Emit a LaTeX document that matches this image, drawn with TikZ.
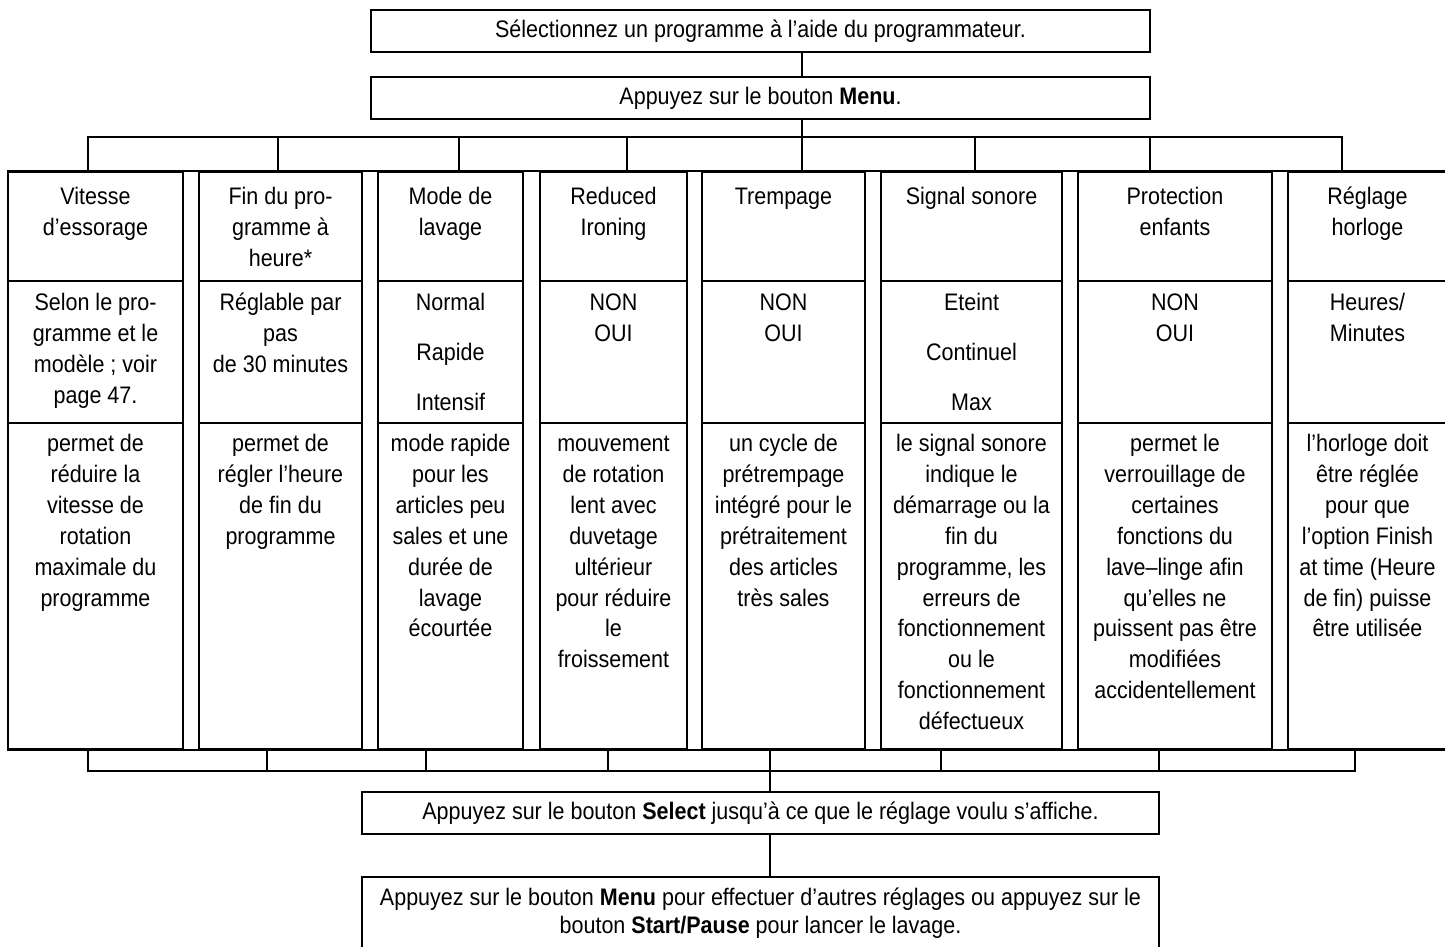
\documentclass[tikz,border=0pt]{standalone}
\usepackage{fontspec}
\setmainfont{Liberation Sans}[FakeStretch=0.9]
\usetikzlibrary{positioning,fit}

\begin{document}
\begin{tikzpicture}[x=0.02cm, y=-0.02cm, line width=1.1pt,
  font=\fontsize{13.6}{17.6}\selectfont,
  box/.style={draw, inner sep=0pt},
  cell/.style={draw, inner sep=0pt},
  txt/.style={align=center, inner sep=0pt}]
\useasboundingbox (0,0) rectangle (1445,947);

% steps at the top and at the bottom
\node[box, fit={(371,10) (1150,52)}] (sel) {};
\node[txt] (seltxt) at (sel.center) {Sélectionnez un programme à l’aide du programmateur.};
\node[box, fit={(371,77) (1150,119)}] (menu) {};
\node[txt] (menutxt) at (menu.center) {Appuyez sur le bouton \textbf{Menu}.};
\node[box, fit={(362,792) (1159,834)}] (select) {};
\node[txt] (selecttxt) at (select.center) {Appuyez sur le bouton \textbf{Select} jusqu’à ce que le réglage voulu s’affiche.};
\node[box, fit={(362,877) (1159,950)}] (start) {};
\node[txt, font=\fontsize{13.6}{15.9}\selectfont] (starttxt) at (start.center)
  {Appuyez sur le bouton \textbf{Menu} pour effectuer d’autres réglages ou appuyez sur le\\
   bouton \textbf{Start/Pause} pour lancer le lavage.};

% option columns
\foreach \n/\l/\r in {1/8/183, 2/199/362, 3/378/523, 4/540/687,
                      5/702/865, 6/881/1062, 7/1078/1272, 8/1288/1447}{
  \node[cell, fit={(\l,172) (\r,281)}] (h\n) {};
  \node[cell, fit={(\l,281) (\r,423)}] (o\n) {};
  \node[cell, fit={(\l,423) (\r,749)}] (d\n) {};
}
\draw (h1.north west) -- (h8.north east);
\draw (d1.south west) -- (d8.south east);

% headers
\node[txt, below=0.215cm of h1.north] (th1) {\strut Vitesse\\d’essorage};
\node[txt, below=0.215cm of h2.north] (th2) {\strut Fin du pro-\\gramme à\\heure*};
\node[txt, below=0.215cm of h3.north] (th3) {\strut Mode de\\lavage};
\node[txt, below=0.215cm of h4.north] (th4) {\strut Reduced\\Ironing};
\node[txt, below=0.215cm of h5.north] (th5) {\strut Trempage};
\node[txt, below=0.215cm of h6.north] (th6) {\strut Signal sonore};
\node[txt, below=0.215cm of h7.north] (th7) {\strut Protection\\enfants};
\node[txt, below=0.215cm of h8.north] (th8) {\strut Réglage\\horloge};

% settings
\node[txt, below=0.165cm of o1.north] (to1) {\strut Selon le pro-\\gramme et le\\modèle ; voir\\page 47.};
\node[txt, below=0.165cm of o2.north] (to2) {\strut Réglable par\\pas\\de 30 minutes};
\node[txt, below=0.165cm of o3.north] (to3) {\strut Normal\\[10.8pt]Rapide\\[10.8pt]Intensif};
\node[txt, below=0.165cm of o4.north] (to4) {\strut NON\\OUI};
\node[txt, below=0.165cm of o5.north] (to5) {\strut NON\\OUI};
\node[txt, below=0.165cm of o6.north] (to6) {\strut Eteint\\[10.8pt]Continuel\\[10.8pt]Max};
\node[txt, below=0.165cm of o7.north] (to7) {\strut NON\\OUI};
\node[txt, below=0.165cm of o8.north] (to8) {\strut Heures/\\Minutes};

% descriptions
\node[txt, below=0.135cm of d1.north] (td1) {\strut permet de\\réduire la\\vitesse de\\rotation\\maximale du\\programme};
\node[txt, below=0.135cm of d2.north] (td2) {\strut permet de\\régler l’heure\\de fin du\\programme};
\node[txt, below=0.135cm of d3.north] (td3) {\strut mode rapide\\pour les\\articles peu\\sales et une\\durée de\\lavage\\écourtée};
\node[txt, below=0.135cm of d4.north] (td4) {\strut mouvement\\de rotation\\lent avec\\duvetage\\ultérieur\\pour réduire\\le\\froissement};
\node[txt, below=0.135cm of d5.north] (td5) {\strut un cycle de\\prétrempage\\intégré pour le\\prétraitement\\des articles\\très sales};
\node[txt, below=0.135cm of d6.north] (td6) {\strut le signal sonore\\indique le\\démarrage ou la\\fin du\\programme, les\\erreurs de\\fonctionnement\\ou le\\fonctionnement\\défectueux};
\node[txt, below=0.135cm of d7.north] (td7) {\strut permet le\\verrouillage de\\certaines\\fonctions du\\lave–linge afin\\qu’elles ne\\puissent pas être\\modifiées\\accidentellement};
\node[txt, below=0.135cm of d8.north] (td8) {\strut l’horloge doit\\être réglée\\pour que\\l’option Finish\\at time (Heure\\de fin) puisse\\être utilisée};

% connectors
\coordinate (trunk) at (802,0);
\coordinate (trunkb) at (770,0);
\draw (sel.south -| trunk) -- (menu.north -| trunk);
\draw (menu.south -| trunk) -- (h5.north -| trunk);
\draw (88,137 |- h1.north) |- (1342,137) -- (1342,137 |- h8.north);
\foreach \x/\n in {278/2, 459/3, 627/4, 975/6, 1150/7}
  \draw (\x,137) -- (\x,137 |- h\n.north);
\draw (88,771 |- d1.south) |- (1355,771) -- (1355,771 |- d8.south);
\foreach \x/\n in {267/2, 426/3, 608/4, 941/6, 1159/7}
  \draw (\x,771) -- (\x,771 |- d\n.south);
\draw (d5.south -| trunkb) -- (select.north -| trunkb);
\draw (select.south -| trunkb) -- (start.north -| trunkb);
\end{tikzpicture}
\end{document}
